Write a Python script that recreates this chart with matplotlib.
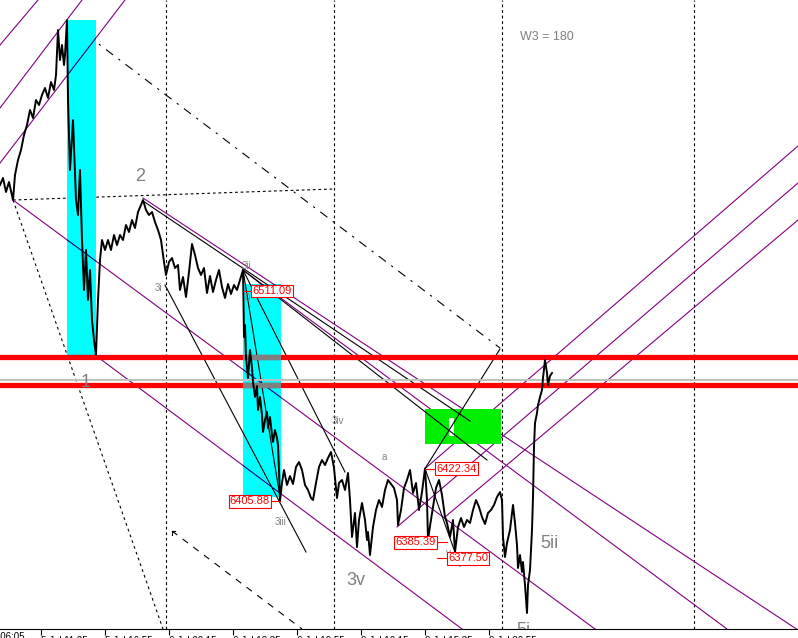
import matplotlib
matplotlib.use('Agg')
import matplotlib.pyplot as plt
from matplotlib.patches import Rectangle

plt.rcParams['font.family'] = ['Liberation Sans', 'DejaVu Sans']

# bar index (5 min bars) and close price
bars = [0, 3, 6, 9, 13, 15, 18, 21, 24, 27, 30, 33, 36, 39, 42, 45, 48, 51, 54, 56, 58, 60, 62, 64, 65, 67,
        68, 70, 73, 76, 78, 80, 82, 84, 86, 88, 90, 92, 94, 96, 98, 100, 102, 105, 108, 111, 114, 117, 120,
        123, 126, 129, 132, 135, 138, 141, 143, 146, 149, 152, 155, 158, 161, 164, 166, 169, 172, 175, 178,
        180, 183, 186, 189, 192, 195, 198, 201, 204, 207, 210, 213, 216, 219, 222, 225, 228, 231, 234, 237,
        240, 243, 244, 245, 246, 248, 250, 252, 253, 255, 257, 258, 260, 262, 263, 265, 267, 268, 270, 272,
        273, 275, 277, 278, 279, 280, 282, 284, 287, 290, 293, 296, 299, 302, 305, 308, 311, 313, 316, 319,
        322, 325, 328, 331, 334, 337, 339, 342, 345, 348, 350, 352, 355, 357, 359, 362, 365, 367, 368, 370,
        373, 376, 379, 382, 385, 388, 391, 394, 397, 398, 401, 404, 407, 410, 413, 416, 419, 422, 425, 427,
        428, 430, 433, 436, 439, 442, 445, 447, 450, 453, 455, 458, 461, 464, 467, 470, 473, 476, 479, 482,
        485, 488, 491, 494, 497, 500, 502, 503, 505, 507, 510, 513, 515, 517, 518, 520, 522, 523, 525, 527,
        528, 530, 532, 533, 534, 535, 537, 538, 540, 542, 543, 545, 547, 548, 550, 552]
close = [6564.1, 6567.6, 6560.6, 6565.6, 6556.6, 6569.1, 6576.6, 6581.6, 6589.1, 6594.1, 6601.6, 6597.6,
         6606.6, 6604.1, 6609.1, 6612.6, 6607.6, 6615.6, 6611.6, 6619.1, 6641.6, 6626.6, 6634.1, 6624.1,
         6629.1, 6646.6, 6606.6, 6571.6, 6596.6, 6556.6, 6549.1, 6571.6, 6536.6, 6511.6, 6531.6, 6506.6,
         6521.6, 6496.6, 6486.6, 6479.1, 6506.6, 6526.6, 6536.6, 6531.6, 6536.6, 6531.6, 6539.1, 6534.1,
         6539.1, 6536.6, 6544.1, 6540.6, 6546.6, 6542.6, 6550.6, 6554.1, 6556.6, 6551.6, 6549.1, 6550.6,
         6545.6, 6541.6, 6536.6, 6525.6, 6519.1, 6525.6, 6527.6, 6522.6, 6524.1, 6511.6, 6518.1, 6508.1,
         6520.6, 6534.6, 6529.1, 6522.6, 6519.1, 6522.6, 6510.1, 6518.6, 6510.6, 6516.6, 6521.6, 6513.1,
         6507.6, 6514.6, 6509.6, 6514.1, 6511.6, 6516.6, 6521.6, 6488.1, 6494.1, 6478.1, 6467.6, 6481.6,
         6472.6, 6465.6, 6458.1, 6463.6, 6451.6, 6458.1, 6449.1, 6440.6, 6446.6, 6450.6, 6442.6, 6448.1,
         6439.1, 6435.6, 6441.6, 6437.6, 6434.1, 6421.6, 6405.9, 6415.1, 6421.6, 6414.1, 6418.6, 6414.6,
         6423.1, 6425.6, 6421.6, 6414.1, 6411.6, 6407.6, 6406.6, 6415.1, 6423.1, 6426.6, 6424.1, 6427.6,
         6430.6, 6422.6, 6407.6, 6415.1, 6416.6, 6411.6, 6420.1, 6406.6, 6388.1, 6400.1, 6383.1, 6396.6,
         6405.1, 6396.6, 6386.6, 6390.6, 6379.1, 6393.1, 6401.6, 6406.6, 6403.1, 6411.6, 6416.6, 6414.6,
         6412.6, 6406.6, 6394.1, 6401.6, 6412.6, 6416.6, 6421.6, 6410.1, 6415.1, 6401.6, 6410.6, 6422.3,
         6406.6, 6386.6, 6393.6, 6403.1, 6412.6, 6416.6, 6409.1, 6398.1, 6395.1, 6388.1, 6396.6, 6380.6,
         6393.1, 6397.6, 6393.1, 6396.6, 6395.1, 6401.6, 6406.6, 6403.1, 6398.1, 6394.6, 6400.1, 6401.6,
         6404.1, 6408.1, 6410.6, 6406.6, 6388.1, 6378.1, 6385.1, 6391.6, 6404.1, 6395.1, 6384.1, 6372.6,
         6379.1, 6370.6, 6375.6, 6364.1, 6350.1, 6364.1, 6371.6, 6391.6, 6408.1, 6433.1, 6445.1, 6450.1,
         6454.1, 6458.1, 6461.6, 6467.6, 6476.6, 6470.1, 6464.1, 6468.6, 6470.1]

tick_bars = [41, 105, 169, 233, 297, 361, 425, 489]
tick_labels = ['5 Jul 11:35', '5 Jul 16:55', '6 Jul 00:15', '6 Jul 13:35',
               '6 Jul 19:55', '9 Jul 10:15', '9 Jul 15:35', '9 Jul 20:55']
day_lines = [166, 334, 502, 694]

red_levels = [6478.1, 6464.1]
gray_level = 6466.6

# zones (bar0, bar1, price_low, price_high)
cyan_zones = [(67, 96, 6479.1, 6646.6), (243, 281, 6408.1, 6514.6)]
green_zone = (425, 501, 6434.6, 6452.1)
white_mark = (449, 454, 6438.6, 6447.6)

# trend lines ((bar, price), (bar, price))
purple_lines = [((0, 6634.1), (38, 6656.6)), ((0, 6602.6), (82, 6656.6)), ((0, 6575.1), (125, 6656.6)),
                ((425, 6422.3), (798, 6583.6)), ((397, 6393.1), (798, 6565.1)), ((445, 6398.1), (798, 6546.6)),
                ((143, 6557.6), (798, 6341.6)), ((13, 6556.6), (595, 6342.1)), ((95, 6479.1), (462, 6342.1)),
                ((243, 6521.6), (727, 6342.1))]
black_lines = [((143, 6556.1), (470, 6446.1)), ((243, 6521.6), (487, 6426.6)), ((165, 6514.1), (306, 6380.6)),
               ((243, 6521.6), (280, 6408.1)), ((243, 6521.6), (345, 6420.6)), ((425, 6422.3), (500, 6482.1)),
               ((425, 6422.3), (460, 6373.6))]

# price tags: value, bar of point, bar where tag box sits
tags = [(6511.09, 243, 251, 'left'), (6405.88, 280, 271, 'right'), (6422.34, 425, 435, 'left'),
        (6385.39, 447, 437, 'right'), (6377.50, 437, 447, 'left')]

big_labels = [('2', 140, 6568.6), ('1', 86, 6465.6), ('3v', 356, 6366.6), ('5ii', 549, 6385.1),
              ('5i', 523, 6341.6)]
small_labels = [('3i', 158, 6512.6), ('3ii', 246, 6523.6), ('0', 247, 6507.6), ('3iii', 281, 6395.6),
                ('3iv', 338, 6446.1), ('a', 384, 6428.1), ('b', 396, 6385.1), ('v', 448, 6380.1)]

fig = plt.figure(figsize=(7.98, 6.38), dpi=100)
ax = fig.add_axes([0, 9 / 638, 1, 629 / 638])
ax.set_xlim(0, 798)
ax.set_ylim(6342.1, 6656.6)

rects = []
for b0, b1, lo, hi in cyan_zones:
    r = Rectangle((b0, lo), b1 - b0, hi - lo, color='#00ffff', lw=0, zorder=2)
    ax.add_patch(r)
    rects.append(r)
g = green_zone
ax.add_patch(Rectangle((g[0], g[2]), g[1] - g[0], g[3] - g[2], color='#00ee00', lw=0, zorder=2))
w = white_mark
ax.add_patch(Rectangle((w[0], w[2]), w[1] - w[0], w[3] - w[2], color='white', lw=0, zorder=2.5))

for xd in day_lines:
    ax.axvline(xd, color='black', lw=0.8, ls=(0, (2.5, 2.5)), zorder=1)

ax.plot([13, 333], [6556.6, 6562.1], color='black', lw=0.8, ls=(0, (2.5, 2.5)), zorder=1)
ax.plot([67, 500], [6646.6, 6482.6], color='black', lw=0.8, ls=(0, (8, 6, 2, 6)), zorder=1)
ax.plot([13, 163], [6556.6, 6342.1], color='black', lw=0.8, ls=(0, (2.5, 3)), zorder=1)
ax.plot([175, 172, 172], [6391.1, 6391.1, 6389.1], color='black', lw=0.8, zorder=1)
ax.plot([172, 302], [6391.1, 6342.1], color='black', lw=0.8, ls=(0, (6, 6)), zorder=1)

for (x0, y0), (x1, y1) in purple_lines:
    ax.plot([x0, x1], [y0, y1], color='#800080', lw=0.8, zorder=1.5)
    for r in rects:
        ln, = ax.plot([x0, x1], [y0, y1], color='#000090', lw=0.8, zorder=2.6)
        ln.set_clip_path(r)
for (x0, y0), (x1, y1) in black_lines:
    ax.plot([x0, x1], [y0, y1], color='black', lw=0.8, zorder=3)

ax.axhline(gray_level, color='#c0c0c0', lw=1.4, zorder=3.5)
for lvl in red_levels:
    ax.axhline(lvl, color='#ff0000', lw=3.8, zorder=3.6)
    for r in rects:
        ln = ax.axhline(lvl, color='#808080', lw=3.8, zorder=3.7)
        ln.set_clip_path(r)

ax.plot(bars, close, color='black', lw=1.4, zorder=4)

for val, bp, bt, side in tags:
    ax.plot([bp, bt], [val, val], color='red', lw=0.8, zorder=5)
    ax.text(bt + (1 if side == 'left' else -1), val, f'{val:.2f}', color='red', fontsize=8,
            ha=side, va='center', zorder=6,
            bbox=dict(boxstyle='square,pad=0.12', fc='white', ec='red', lw=0.8))

for s, xb, yp in big_labels:
    ax.text(xb, yp, s, color='#808080', fontsize=13, ha='center', va='center', zorder=5, clip_on=True)
for s, xb, yp in small_labels:
    ax.text(xb, yp, s, color='#808080', fontsize=7, ha='center', va='center', zorder=5)
ax.text(520, 6638.1, 'W3 = 180', color='#808080', fontsize=9, ha='left', va='center')

for sp in ['top', 'right', 'left']:
    ax.spines[sp].set_visible(False)
ax.spines['bottom'].set_linewidth(0.8)
ax.set_yticks([])
ax.set_xticks(tick_bars)
ax.set_xticklabels(tick_labels, fontsize=7, ha='left')
ax.tick_params(axis='x', length=4, width=0.8, pad=1)
ax.text(-23, -0.005, '5 Jul 06:05', transform=ax.get_xaxis_transform(), fontsize=7,
        ha='left', va='top')

fig.savefig('out.png', dpi=100)
